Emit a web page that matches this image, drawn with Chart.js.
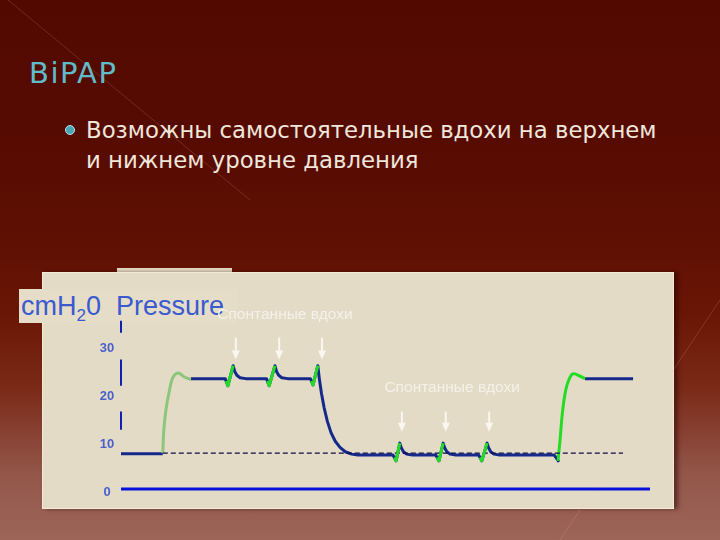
<!DOCTYPE html>
<html>
<head>
<meta charset="utf-8">
<script src="https://cdn.jsdelivr.net/npm/chart.js@4.4.0/dist/chart.umd.min.js"></script>
<style>
body{margin:0;width:720px;height:540px;overflow:hidden;position:relative;
  background:linear-gradient(to bottom,#520a00 0%,#560b01 25%,#5f1003 45%,#6a1606 58%,#7b2a18 72%,#93574a 88%,#9c6558 100%);}
#title{position:absolute;left:29px;top:56px;font:29px "DejaVu Sans";color:#5fbccb;letter-spacing:1.5px;}
#dot{position:absolute;left:65px;top:125px;width:8px;height:8px;border-radius:50%;background:#4aa6b6;border:1px solid #b8dde2;}
#bullet{position:absolute;left:86px;top:115px;font:22.8px/30px "DejaVu Sans";color:#efe6dc;white-space:nowrap;}
#strip{position:absolute;left:117px;top:268px;width:115px;height:6px;background:#e6ddc8;}
#panel{position:absolute;left:42px;top:272px;width:630px;height:235px;background:#e4dbc6;border:1px solid #f3ebd8;box-shadow:4px 0 4px rgba(40,0,0,0.5);}
#unit{position:absolute;left:19px;top:289px;width:218px;height:34px;background:#e6ddc8;font:27px "Liberation Sans";color:#3a5ad0;line-height:34px;padding-left:2px;box-sizing:border-box;white-space:nowrap;}
#unit sub{font-size:17px;vertical-align:-6px;}
canvas{position:absolute;left:0;top:0;}
</style>
</head>
<body>
<div id="title">BiPAP</div>
<div id="dot"></div>
<div id="bullet">Возможны самостоятельные вдохи на верхнем<br>и нижнем уровне давления</div>
<div id="strip"></div>
<div id="panel"></div>
<div id="unit">cmH<sub>2</sub>0&nbsp; Pressure</div>
<canvas id="c" width="720" height="540"></canvas>
<script>
// time in s, pressure in cmH2O
const baseTime=[0,0.79];
const basePressure=[7.4,7.4];
const firstRiseTime=[0.79,0.81,0.85,0.91,0.98,1.08,1.19,1.32];
const firstRisePressure=[7.5,12.4,16.6,20.3,23.3,24.3,23.5,22.9];
const cycleTime=[1.32,1.97,2.02,2.12,2.15,2.19,2.25,2.36,2.75,2.80,2.91,2.94,2.98,3.04,3.15,3.58,3.63,3.72,3.75,3.79,3.84,3.90,3.97,4.05,4.14,4.24,4.36,4.48,
  5.14,5.20,5.27,5.30,5.34,5.40,5.51,5.95,6.01,6.09,6.12,6.16,6.22,6.33,6.76,6.82,6.92,6.95,6.99,7.05,7.16,8.19,8.28];
const cyclePressure=[23.1,23.1,21.6,25.8,24.6,23.8,23.3,23.1,23.1,21.6,25.8,24.6,23.8,23.3,23.1,23.1,21.8,25.8,23.0,20.0,17.0,14.2,11.8,10.0,8.7,7.8,7.3,7.1,
  7.1,5.9,9.6,8.6,7.8,7.3,7.1,7.1,5.9,9.6,8.6,7.8,7.3,7.1,7.1,5.9,9.6,8.6,7.8,7.3,7.1,7.1,5.7];
const lastRiseTime=[8.26,8.30,8.34,8.39,8.45,8.54,8.66,8.77];
const lastRisePressure=[5.9,10.3,15.5,19.7,22.4,24.1,23.7,23.1];
const upperEndTime=[8.77,9.68];
const upperEndPressure=[23.1,23.1];
const spontTime=[[1.99,2.02,2.12],[2.77,2.80,2.91],[3.60,3.63,3.72],[5.17,5.20,5.27],[5.98,6.01,6.09],[6.79,6.82,6.92]];
const spontPressure=[[22.6,21.6,25.8],[22.6,21.6,25.8],[22.6,21.8,25.8],[6.6,5.9,9.6],[6.6,5.9,9.6],[6.6,5.9,9.6]];
const peepTime=[0.79,9.49];
const peepPressure=[7.5,7.5];
const zeroTime=[0,10];
const zeroPressure=[0,0];
const yTicks=[0,10,20,30];
const axisPieces=[[35.2,32.7],[27.1,21.6],[16.2,12.4]];
const arrowTimesUpper=[2.17,2.99,3.80];
const arrowTimesLower=[5.31,6.14,6.96];
const arrowUpper=[31.7,27.1];
const arrowLower=[16.2,12.0];
const noteText="Спонтанные вдохи";
const notes=[{x:3.10,y:36.4},{x:6.26,y:21.3}];

function pts(ts,ps){return ts.map((t,i)=>({x:t,y:ps[i]}));}

const NAVY="#14298a", GREEN="#24dc24";
const datasets=[];
spontTime.forEach((t,i)=>{
  datasets.push({data:pts(t,spontPressure[i]),borderColor:GREEN,borderWidth:3,order:0,tension:0});
});
datasets.push({data:pts(peepTime,peepPressure),borderColor:"#0c0c48",borderWidth:1.2,borderDash:[5,3],order:0});
datasets.push({data:pts(firstRiseTime,firstRisePressure),borderColor:"#8cc67a",borderWidth:3,order:1,tension:0.35});
datasets.push({data:pts(lastRiseTime,lastRisePressure),borderColor:GREEN,borderWidth:3,order:0,tension:0.35});
datasets.push({data:pts(baseTime,basePressure),borderColor:NAVY,borderWidth:3,order:2});
datasets.push({data:pts(cycleTime,cyclePressure),borderColor:NAVY,borderWidth:3,order:2,tension:0});
datasets.push({data:pts(upperEndTime,upperEndPressure),borderColor:NAVY,borderWidth:3,order:2});
datasets.push({data:pts(zeroTime,zeroPressure),borderColor:"#0812dc",borderWidth:3,order:2});
datasets.forEach(d=>{d.showLine=true;d.pointRadius=0;d.fill=false;d.clip=false;d.borderJoinStyle="round";});

const deco={
  id:"deco",
  beforeDraw(chart){
    const ctx=chart.ctx;
    ctx.save();
    ctx.strokeStyle="rgba(255,190,160,0.18)";ctx.lineWidth=1;
    ctx.beginPath();ctx.moveTo(8,0);ctx.lineTo(250,200);ctx.stroke();
    ctx.beginPath();ctx.moveTo(720,300);ctx.lineTo(560,540);ctx.stroke();
    ctx.restore();
  },
  beforeDatasetsDraw(chart){
    const ctx=chart.ctx, x=chart.scales.x, y=chart.scales.y;
    const ax=x.getPixelForValue(0);
    ctx.save();
    ctx.strokeStyle="#1020b0";ctx.lineWidth=2;
    axisPieces.forEach(p=>{
      ctx.beginPath();ctx.moveTo(ax,y.getPixelForValue(p[0]));ctx.lineTo(ax,y.getPixelForValue(p[1]));ctx.stroke();
    });
    ctx.font="bold 13px 'Liberation Sans'";ctx.textAlign="center";ctx.textBaseline="middle";
    ctx.fillStyle="#4a60cc";
    yTicks.forEach(v=>{ctx.fillText(String(v),ax-14,y.getPixelForValue(v)+3);});
    ctx.restore();
  },
  afterDatasetsDraw(chart){
    const ctx=chart.ctx, x=chart.scales.x, y=chart.scales.y;
    ctx.save();
    ctx.strokeStyle="#faf6f0";ctx.fillStyle="#faf6f0";ctx.lineWidth=2;
    function arrow(t,from,to){
      const px=x.getPixelForValue(t), y0=y.getPixelForValue(from), y1=y.getPixelForValue(to);
      ctx.beginPath();ctx.moveTo(px,y0);ctx.lineTo(px,y1-8);ctx.stroke();
      ctx.beginPath();ctx.moveTo(px-4,y1-9);ctx.lineTo(px+4,y1-9);ctx.lineTo(px,y1);ctx.closePath();ctx.fill();
    }
    arrowTimesUpper.forEach(t=>arrow(t,arrowUpper[0],arrowUpper[1]));
    arrowTimesLower.forEach(t=>arrow(t,arrowLower[0],arrowLower[1]));
    ctx.font="15.5px 'Liberation Sans'";ctx.textAlign="center";ctx.textBaseline="middle";
    ctx.fillStyle="#f5f1ea";
    notes.forEach(n=>ctx.fillText(noteText,x.getPixelForValue(n.x),y.getPixelForValue(n.y)));
    ctx.restore();
  }
};

new Chart(document.getElementById("c"),{
  type:"scatter",
  data:{datasets:datasets},
  options:{
    responsive:false,
    animation:false,
    layout:{padding:{left:121,right:70,top:317,bottom:51}},
    scales:{
      x:{type:"linear",min:0,max:10,display:false},
      y:{type:"linear",min:0,max:36,display:false}
    },
    plugins:{legend:{display:false},tooltip:{enabled:false}}
  },
  plugins:[deco]
});
</script>
</body>
</html>
